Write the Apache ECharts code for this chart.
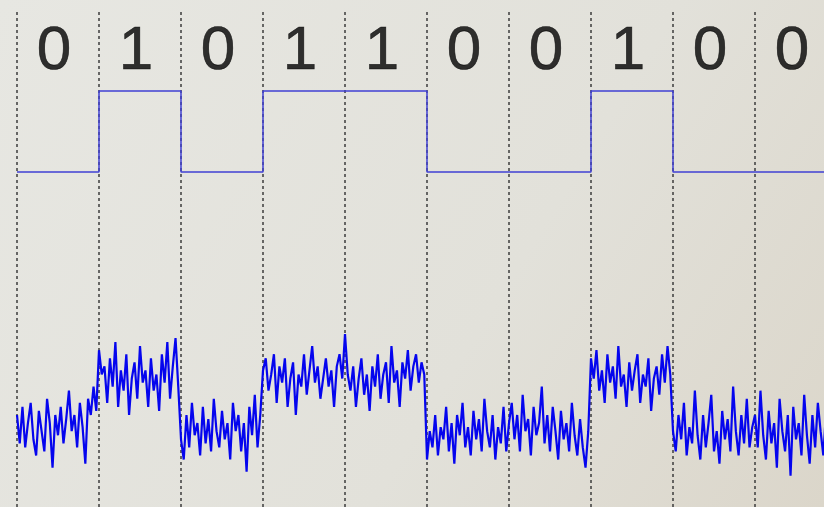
<!DOCTYPE html>
<html><head><meta charset="utf-8">
<script src="https://cdn.jsdelivr.net/npm/echarts@6/dist/echarts.min.js"></script>
<style>html,body{margin:0;padding:0;width:824px;height:507px;overflow:hidden}#c{width:824px;height:507px}</style>
</head><body><div id="c"></div>
<script>
// transmitted bits
const bits = [0,1,0,1,1,0,0,1,0,0];
const levelLow = 0, levelHigh = 100;
const samplesPerBit = 30;
// visible time span (bit periods) across the picture
const visibleSpan = 9.8415;
// received (noisy) samples, per bit period
const rx0 = [-300,-335,-290,-340,-310,-285,-330,-350,-295,-320,-345,-280,-310,-365,-300,-325,-290,-335,-305,-270,-320,-300,-340,-285,-315,-360,-280,-300,-265,-295];
const rx1 = [-220,-250,-240,-285,-230,-265,-210,-290,-245,-270,-225,-300,-255,-235,-280,-215,-260,-245,-290,-230,-270,-250,-295,-225,-260,-210,-280,-240,-205,-265];
const rx2 = [-330,-355,-300,-340,-285,-325,-310,-350,-290,-335,-305,-345,-280,-320,-340,-295,-330,-310,-355,-285,-320,-300,-345,-310,-370,-290,-325,-275,-340,-300];
const rx3 = [-245,-230,-270,-250,-225,-285,-240,-260,-230,-290,-255,-235,-300,-250,-265,-225,-275,-245,-215,-260,-240,-280,-255,-230,-265,-245,-290,-240,-225,-255];
const rx4 = [-200,-250,-270,-240,-290,-255,-230,-275,-250,-295,-240,-265,-225,-280,-250,-235,-285,-215,-260,-245,-290,-235,-255,-220,-270,-240,-225,-260,-235,-250];
const rx5 = [-355,-320,-340,-300,-350,-315,-330,-290,-345,-310,-360,-300,-325,-285,-340,-315,-350,-295,-330,-305,-345,-280,-320,-340,-300,-355,-315,-335,-290,-345];
const rx6 = [-310,-285,-330,-300,-345,-275,-320,-305,-350,-290,-325,-310,-265,-335,-300,-345,-290,-320,-355,-295,-330,-310,-345,-285,-325,-350,-305,-340,-365,-320];
const rx7 = [-230,-255,-220,-270,-245,-285,-225,-260,-240,-280,-215,-265,-250,-290,-235,-270,-245,-225,-285,-250,-265,-230,-295,-255,-240,-275,-225,-260,-215,-250];
const rx8 = [-320,-345,-300,-330,-285,-350,-315,-335,-270,-325,-355,-300,-340,-310,-275,-345,-320,-360,-295,-330,-305,-345,-265,-320,-350,-300,-335,-280,-340,-315];
const rx9 = [-300,-340,-270,-325,-355,-295,-335,-310,-365,-280,-320,-345,-300,-375,-290,-330,-310,-350,-275,-325,-360,-300,-340,-285,-320,-350,-295,-335,-310,-330,-320];
const labelLevel = 148;

const received = [].concat(rx0,rx1,rx2,rx3,rx4,rx5,rx6,rx7,rx8,rx9);
const squareData = bits.map((b,i)=>[i, b ? levelHigh : levelLow]);
squareData.push([bits.length, bits[bits.length-1] ? levelHigh : levelLow]);
const rxData = received.map((v,i)=>[i/samplesPerBit, v]);
const labelData = bits.map((b,i)=>[i+0.5, labelLevel]);

const chart = echarts.init(document.getElementById('c'), null, {renderer:'canvas'});
chart.setOption({
  animation:false,
  backgroundColor:{type:'linear',x:0,y:0,x2:1,y2:1,colorStops:[{offset:0,color:'#e7e7e2'},{offset:0.6,color:'#e2e1da'},{offset:1,color:'#dbd6ca'}]},
  grid:{left:17,right:0,top:12,bottom:0,containLabel:false},
  xAxis:{type:'value',min:0,max:visibleSpan,interval:1,
    axisLine:{show:false},axisTick:{show:false},axisLabel:{show:false},
    splitLine:{show:true,showMaxLine:false,lineStyle:{color:'#3c3c3c',width:1.5,type:[3,3]}}},
  yAxis:{type:'value',min:-413.6,max:197.5,show:false,splitLine:{show:false}},
  series:[
    {type:'line',data:squareData,step:'end',symbol:'none',
      lineStyle:{color:'#4040d4',width:1.5},z:3},
    {type:'line',data:rxData,symbol:'none',
      lineStyle:{color:'#0505ee',width:2.2},z:3},
    {type:'scatter',data:labelData,symbolSize:1,itemStyle:{color:'rgba(0,0,0,0)'},
      label:{show:true,position:'inside',offset:[-4,0],
        formatter:p=>String(bits[p.dataIndex]),
        fontFamily:'Liberation Sans',fontSize:62,color:'#000',
        textBorderColor:'#000',textBorderWidth:0.6},z:4}
  ]
});
</script></body></html>
